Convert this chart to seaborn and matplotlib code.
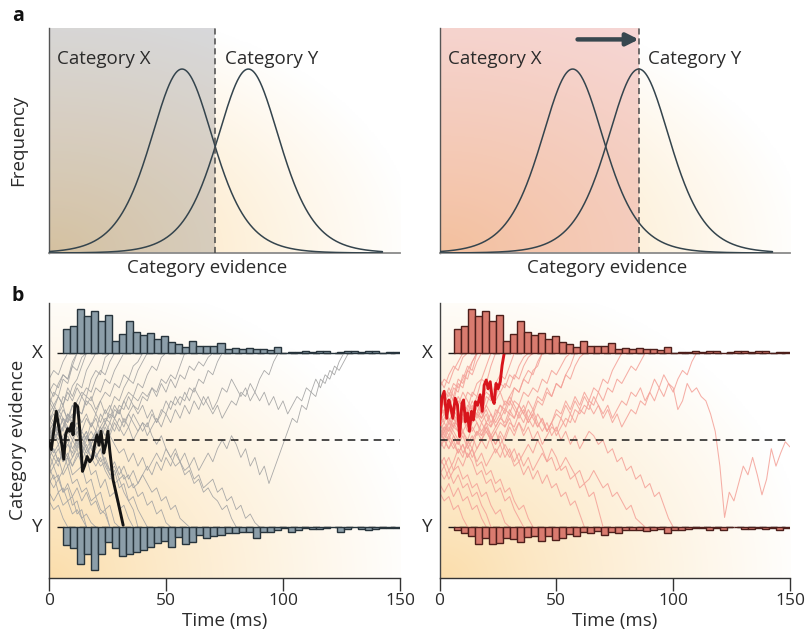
import numpy as np
import pandas as pd
import matplotlib
matplotlib.use("Agg")
import matplotlib.pyplot as plt
import matplotlib.transforms as mtransforms
import seaborn as sns

# ---------------- data ----------------
# panel a: category distributions (evidence units, bell-shaped)
CURVE_MEANS = [3.79, 5.68]
CURVE_SCALE = 0.61
CURVE_RANGE = [0.0, 9.5]
THRESHOLDS = [4.73, 5.68]          # decision criterion, left / right panel
ARROW_FROM = 3.93                  # criterion shift arrow (right panel)
CATEGORY_LABELS = ["Category X", "Category Y"]

# panel b: reaction-time histograms (3 ms bins from 6 ms)
BIN_START = 6
BIN_WIDTH = 3
HIST_X = [24, 27, 44, 37, 42, 32, 38, 12, 19, 32, 21, 18, 20, 14, 17, 11, 9, 6,
          12, 7, 7, 7, 10, 4, 5, 4, 5, 4, 4, 3, 6, 0, 1.5, 1.5, 2, 1.5, 2, 2.5,
          0.5, 1.5, 2, 2.5, 1.5, 2, 2.5, 0.5, 1, 1]
HIST_Y_LEFT = [17.7, 21, 36.7, 26.7, 42.7, 26.7, 15.3, 21, 28.7, 26.7, 25.3, 22.7,
               20, 16, 13.7, 20, 10, 16.7, 15.3, 7.7, 11, 8.7, 7.7, 6, 6, 4.7, 4.7,
               11, 5.3, 4.7, 2.7, 0.5, 5, 2.7, 0.5, 2, 2, 0.5, 0.3, 5, 2, 0.3, 2,
               2.7, 2, 0.5, 1, 0.5]
HIST_Y_RIGHT = [3.3, 6, 9.3, 17, 11, 17, 16, 11, 12, 15, 10.3, 8.7, 14.3, 9.3, 13.3,
                11, 6.7, 8.7, 5, 6, 3.7, 7.7, 5.3, 5.5, 3.3, 3.3, 3.3, 4.3, 3.3, 2,
                6, 2.7, 3.3, 2, 1.3, 1, 2.7, 1, 3.3, 0.3, 0, 2, 1.5, 1.3, 1.5, 1,
                2.7, 0.5]

TICKS_T = [0, 50, 100, 150]
DT = 2  # ms between samples of the thin traces

# highlighted single trials
BLACK_T = [0, 1, 2, 3.1, 4.3, 5.4, 6.3, 7.1, 8, 8.8, 9.7, 10.3, 11.1, 12.3, 13.1,
           14.3, 15.3, 16.3, 17.4, 18.5, 19.5, 20.5, 21.4, 22.2, 23.4, 24.2, 25.2,
           26, 27.4, 29.5, 31.7]
BLACK_Y = [-0.02, -0.11, 0.10, 0.33, 0.13, -0.04, -0.22, 0.06, 0.13, 0.10, 0.19,
           0.06, 0.42, 0.38, 0.13, -0.36, -0.29, -0.19, -0.25, -0.21, -0.06, 0.06,
           -0.06, 0.10, -0.15, -0.06, 0.10, -0.13, -0.46, -0.71, -0.98]
RED_T = [0, 1, 2, 3.1, 4, 4.8, 5.7, 6.7, 7.7, 8.6, 9.6, 10.3, 11.1, 12, 12.8, 13.7,
         14.5, 15.4, 16.3, 17.4, 18.3, 19.1, 20, 20.8, 21.7, 22.5, 23.4, 24.2, 25.1,
         26, 26.8, 27.7]
RED_Y = [0.17, 0.48, 0.56, 0.25, 0.46, 0.38, 0.25, 0.48, 0.40, 0.04, 0.42, 0.46,
         0.21, 0.31, 0.10, 0.33, 0.23, 0.44, 0.40, 0.52, 0.33, 0.63, 0.69, 0.59,
         0.67, 0.48, 0.42, 0.65, 0.59, 0.67, 0.86, 1.0]

TRACES_LEFT = [
    [0.2, 0.35, 0.3, 0.5, 0.45, 0.62, 0.7, 0.85, 1.0],
    [-0.1, 0.05, 0.2, 0.1, 0.3, 0.25, 0.45, 0.55, 0.5, 0.7, 0.8, 0.75, 0.95, 1.0],
    [0.4, 0.55, 0.5, 0.7, 0.65, 0.85, 1.0],
    [-0.3, -0.45, -0.4, -0.6, -0.55, -0.75, -0.7, -0.9, -1.0],
    [0.0, -0.15, -0.05, -0.25, -0.2, -0.4, -0.35, -0.3, -0.5, -0.45, -0.65, -0.6,
     -0.8, -0.75, -0.95, -1.0],
    [0.1, 0.2, 0.05, 0.15, 0.3, 0.2, 0.35, 0.3, 0.45, 0.4, 0.3, 0.45, 0.55, 0.5,
     0.65, 0.6, 0.75, 0.7, 0.85, 0.9, 1.0],
    [-0.5, -0.4, -0.6, -0.55, -0.7, -0.65, -0.85, -0.8, -1.0],
    [0.6, 0.5, 0.65, 0.75, 0.7, 0.9, 1.0],
    [-0.2, -0.1, -0.25, -0.15, -0.3, -0.2, -0.05, -0.15, 0.0, 0.1, 0.0, 0.15, 0.25,
     0.2, 0.35, 0.3, 0.45, 0.55, 0.5, 0.65, 0.6, 0.75, 0.85, 0.8, 0.95, 1.0],
    [0.3, 0.2, 0.35, 0.25, 0.1, 0.2, 0.05, -0.05, 0.05, -0.1, -0.2, -0.1, -0.25,
     -0.35, -0.3, -0.45, -0.4, -0.55, -0.5, -0.65, -0.6, -0.75, -0.7, -0.85, -0.8,
     -0.95, -1.0],
    [0.0, 0.1, -0.05, 0.05, 0.15, 0.1, 0.2, 0.1, 0.25, 0.15, 0.3, 0.2, 0.35, 0.25,
     0.4, 0.3, 0.45, 0.35, 0.5, 0.45, 0.55, 0.5, 0.6, 0.55, 0.7, 0.65, 0.75, 0.7,
     0.85, 1.0],
    [-0.1, -0.2, -0.1, -0.25, -0.15, -0.3, -0.2, -0.1, -0.2, -0.05, -0.15, -0.25,
     -0.2, -0.35, -0.25, -0.4, -0.3, -0.45, -0.35, -0.5, -0.4, -0.3, -0.4, -0.25,
     -0.35, -0.2, -0.3, -0.15, -0.25, -0.35, -0.3, -0.45, -0.4, -0.55, -0.5, -0.45,
     -0.6, -0.55, -0.7, -0.65, -0.8, -0.75, -0.9, -0.85, -0.95, -1.0],
    [0.1, 0.2, 0.1, 0.25, 0.15, 0.05, 0.15, 0.0, 0.1, -0.05, 0.05, 0.15, 0.05, 0.2,
     0.1, 0.25, 0.15, 0.3, 0.2, 0.1, 0.2, 0.05, 0.15, 0.25, 0.15, 0.3, 0.2, 0.35,
     0.25, 0.4, 0.3, 0.45, 0.35, 0.5, 0.4, 0.3, 0.4, 0.25, 0.35, 0.45, 0.4, 0.55,
     0.5, 0.65, 0.55, 0.45, 0.55, 0.4, 0.5, 0.35, 0.45, 0.3, 0.4, 0.5, 0.45, 0.6,
     0.55, 0.7, 0.6, 0.75, 0.7, 0.85, 0.8, 0.9, 1.0],
    [-0.2, -0.1, -0.25, -0.15, -0.05, -0.15, 0.0, -0.1, 0.05, -0.05, 0.1, 0.0, 0.15,
     0.05, 0.2, 0.1, 0.25, 0.15, 0.3, 0.2, 0.1, 0.2, 0.05, -0.05, 0.05, -0.1, -0.2,
     -0.1, -0.25, -0.15, -0.3, -0.2, -0.35, -0.25, -0.15, -0.25, -0.1, 0.0, -0.1,
     0.05, -0.05, -0.2, -0.1, -0.3, -0.2, -0.4, -0.3, -0.5, -0.35, -0.2, -0.05, 0.1,
     0.25, 0.2, 0.4, 0.35, 0.55, 0.5, 0.7, 0.65, 0.8, 0.75, 0.9, 1.0],
    [0.2, 0.3, 0.2, 0.35, 0.25, 0.4, 0.3, 0.2, 0.3, 0.15, 0.25, 0.1, 0.2, 0.3, 0.25,
     0.4, 0.35, 0.5, 0.4, 0.3, 0.4, 0.25, 0.35, 0.2, 0.3, 0.45, 0.35, 0.5, 0.4, 0.55,
     0.45, 0.6, 0.5, 0.4, 0.5, 0.35, 0.45, 0.6, 0.55, 0.7, 0.6, 0.5, 0.6, 0.45, 0.55,
     0.7, 0.8, 0.75, 0.9, 1.0],
    [0.5, 0.4, 0.3, 0.4, 0.2, 0.3, 0.1, 0.0, 0.1, -0.1, -0.2, -0.1, -0.3, -0.4,
     -0.35, -0.55, -0.5, -0.7, -0.8, -1.0],
    [-0.6, -0.7, -0.6, -0.75, -0.7, -0.85, -0.8, -0.9, -0.85, -0.95, -1.0],
    [0.3, 0.4, 0.5, 0.4, 0.55, 0.45, 0.6, 0.5, 0.4, 0.5, 0.35, 0.45, 0.3, 0.4, 0.25,
     0.35, 0.2, 0.3, 0.4, 0.35, 0.5, 0.45, 0.6, 0.5, 0.65, 0.55, 0.7, 0.6, 0.75, 0.7,
     0.85, 0.8, 0.9, 0.85, 0.95, 1.0],
    [-0.4, -0.3, -0.45, -0.35, -0.2, -0.3, -0.15, -0.25, -0.1, -0.2, -0.3, -0.2,
     -0.35, -0.45, -0.4, -0.3, -0.45, -0.4, -0.55, -0.5, -0.4, -0.5, -0.6, -0.55,
     -0.7, -0.65, -0.8, -0.75, -0.9, -0.95, -1.0],
    [0.7, 0.8, 0.75, 0.9, 1.0],
    [-0.7, -0.8, -0.75, -0.9, -1.0],
    [0.0, 0.15, 0.1, 0.25, 0.2, 0.4, 0.35, 0.5, 0.6, 0.55, 0.7, 0.8, 0.75, 0.9, 1.0],
    [-0.35, -0.2, -0.3, -0.1, -0.2, 0.0, -0.1, 0.1, 0.0, 0.2, 0.1, 0.3, 0.2, 0.35,
     0.5, 0.45, 0.6, 0.7, 0.65, 0.8, 0.9, 1.0],
    [0.15, 0.0, 0.1, -0.1, 0.0, -0.2, -0.1, -0.3, -0.2, -0.4, -0.35, -0.55, -0.45,
     -0.65, -0.6, -0.8, -0.75, -0.9, -1.0],
    [-0.1, 0.0, 0.1, 0.0, 0.15, 0.05, -0.05, 0.05, -0.1, 0.0, 0.1, 0.05, 0.2, 0.1,
     0.25, 0.15, 0.05, 0.15, 0.0, 0.1, 0.2, 0.15, 0.3, 0.2, 0.35, 0.3, 0.45, 0.4,
     0.5, 0.45, 0.6, 0.55, 0.7, 0.65, 0.8, 0.75, 0.9, 1.0],
    [0.05, 0.15, 0.05, -0.05, 0.05, -0.1, 0.0, -0.15, -0.05, -0.2, -0.1, 0.0, -0.1,
     0.05, -0.05, -0.15, -0.1, -0.25, -0.15, -0.3, -0.2, -0.35, -0.25, -0.15, -0.25,
     -0.1, -0.2, -0.3, -0.25, -0.4, -0.35, -0.5, -0.45, -0.6, -0.55, -0.65, -0.7,
     -0.8, -0.75, -0.9, -1.0],
    [0.45, 0.35, 0.5, 0.4, 0.6, 0.5, 0.65, 0.6, 0.8, 0.9, 1.0],
    [-0.15, -0.3, -0.2, -0.4, -0.3, -0.5, -0.45, -0.6, -0.55, -0.7, -0.65, -0.8,
     -0.85, -1.0],
    [0.25, 0.15, 0.3, 0.2, 0.1, 0.0, 0.1, -0.05, -0.15, -0.05, -0.2, -0.3, -0.25,
     -0.4, -0.5, -0.45, -0.6, -0.7, -0.65, -0.8, -0.9, -1.0],
    [-0.05, 0.1, 0.0, 0.15, 0.25, 0.2, 0.35, 0.3, 0.5, 0.45, 0.6, 0.55, 0.7, 0.65,
     0.8, 0.9, 1.0],
    [0.55, 0.65, 0.6, 0.75, 0.7, 0.85, 0.8, 0.95, 1.0],
    [-0.45, -0.55, -0.45, -0.6, -0.5, -0.65, -0.55, -0.7, -0.6, -0.75, -0.7, -0.85,
     -0.8, -1.0],
]

TRACES_RIGHT = [
    [0.3, 0.45, 0.4, 0.6, 0.55, 0.75, 0.7, 0.9, 1.0],
    [0.0, 0.15, 0.1, 0.3, 0.2, 0.4, 0.35, 0.55, 0.5, 0.7, 0.65, 0.85, 1.0],
    [0.6, 0.7, 0.65, 0.8, 0.9, 1.0],
    [-0.3, -0.2, -0.35, -0.25, -0.1, -0.2, 0.0, -0.1, 0.1, 0.05, 0.2, 0.15, 0.35,
     0.3, 0.45, 0.4, 0.6, 0.55, 0.7, 0.8, 0.75, 0.9, 1.0],
    [0.2, 0.1, 0.25, 0.15, 0.3, 0.2, 0.35, 0.25, 0.4, 0.3, 0.5, 0.45, 0.6, 0.55,
     0.65, 0.6, 0.75, 0.7, 0.85, 0.95, 1.0],
    [-0.5, -0.6, -0.5, -0.65, -0.55, -0.7, -0.65, -0.8, -0.75, -0.9, -1.0],
    [0.1, 0.0, -0.1, 0.0, -0.15, -0.05, -0.2, -0.1, -0.3, -0.25, -0.4, -0.35, -0.5,
     -0.45, -0.6, -0.55, -0.7, -0.8, -0.75, -0.9, -1.0],
    [0.4, 0.3, 0.45, 0.35, 0.5, 0.4, 0.3, 0.4, 0.25, 0.35, 0.2, 0.3, 0.15, 0.25,
     0.35, 0.3, 0.45, 0.4, 0.55, 0.5, 0.6, 0.55, 0.7, 0.65, 0.8, 0.75, 0.85, 0.95, 1.0],
    [0.05, 0.15, 0.05, 0.2, 0.1, 0.25, 0.15, 0.3, 0.2, 0.1, 0.2, 0.05, 0.15, 0.25,
     0.2, 0.35, 0.25, 0.4, 0.3, 0.2, 0.3, 0.15, 0.25, 0.1, 0.2, 0.3, 0.25, 0.4, 0.3,
     0.45, 0.35, 0.5, 0.4, 0.3, 0.4, 0.25, 0.35, 0.2, 0.3, 0.15, 0.25, 0.35, 0.3,
     0.45, 0.4, 0.55, 0.45, 0.6, 0.5, 0.65, 0.6, 0.35, 0.45, 0.65, 0.55, 0.6, 0.5,
     0.45, 0.3, 0.1, -0.3, -0.89, -0.6, -0.7, -0.5, -0.3, -0.4, -0.2, -0.4, -0.63,
     -0.45, -0.1, -0.3, -0.15, -0.02, -0.08],
    [0.2, 0.3, 0.2, 0.35, 0.25, 0.4, 0.3, 0.45, 0.35, 0.25, 0.35, 0.2, 0.3, 0.4,
     0.35, 0.5, 0.4, 0.3, 0.4, 0.25, 0.35, 0.2, 0.1, 0.2, 0.05, 0.15, 0.0, 0.1, -0.05,
     0.05, -0.1, 0.0, 0.1, 0.05, -0.05, 0.0, -0.15, -0.1, -0.25, -0.2, -0.35, -0.3,
     -0.45, -0.4, -0.55, -0.5, -0.65, -0.6, -0.75, -0.9, -1.0],
    [-0.1, 0.0, -0.1, 0.05, -0.05, 0.1, 0.0, 0.15, 0.05, 0.2, 0.1, 0.0, 0.1, -0.05,
     0.05, 0.2, 0.15, 0.3, 0.2, 0.35, 0.25, 0.15, 0.25, 0.1, 0.2, 0.35, 0.3, 0.45,
     0.35, 0.5, 0.4, 0.55, 0.45, 0.6, 0.55, 0.7, 0.65, 0.8, 0.9, 1.0],
    [0.0, -0.1, 0.05, -0.05, -0.15, -0.05, -0.2, -0.1, -0.25, -0.15, -0.3, -0.2,
     -0.1, -0.2, -0.05, -0.15, -0.3, -0.25, -0.4, -0.3, -0.45, -0.35, -0.5, -0.4,
     -0.55, -0.5, -0.65, -0.6, -0.75, -0.7, -0.85, -1.0],
    [0.15, 0.05, 0.2, 0.1, 0.0, 0.1, -0.05, 0.05, -0.1, 0.0, 0.1, 0.0, -0.15, -0.05,
     -0.2, -0.1, -0.25, -0.15, -0.3, -0.2, -0.35, -0.25, -0.15, -0.25, -0.1, -0.2,
     -0.35, -0.3, -0.45, -0.4, -0.55, -0.5, -0.65, -0.6, -0.8, -1.0],
    [0.3, 0.2, 0.35, 0.25, 0.15, 0.25, 0.1, 0.2, 0.3, 0.25, 0.4, 0.3, 0.2, 0.3, 0.15,
     0.25, 0.1, 0.2, 0.05, 0.15, 0.0, 0.1, -0.05, 0.05, 0.15, 0.1, 0.25, 0.15, 0.3,
     0.2, 0.35, 0.3, 0.45, 0.4, 0.55, 0.45, 0.6, 0.55, 0.7, 0.65, 0.75, 0.85, 0.8,
     0.9, 1.0],
    [0.5, 0.4, 0.55, 0.45, 0.65, 0.6, 0.8, 0.75, 0.9, 1.0],
    [-0.2, -0.3, -0.2, -0.35, -0.3, -0.45, -0.4, -0.55, -0.5, -0.65, -0.6, -0.75,
     -0.85, -0.8, -0.95, -1.0],
    [0.0, 0.1, 0.2, 0.15, 0.3, 0.25, 0.4, 0.35, 0.5, 0.45, 0.6, 0.55, 0.45, 0.55,
     0.4, 0.5, 0.6, 0.55, 0.7, 0.65, 0.8, 0.85, 1.0],
    [-0.4, -0.3, -0.45, -0.35, -0.2, -0.3, -0.15, -0.25, -0.4, -0.35, -0.5, -0.45,
     -0.6, -0.55, -0.7, -0.65, -0.8, -0.9, -1.0],
    [0.7, 0.6, 0.75, 0.85, 0.8, 0.95, 1.0],
    [-0.6, -0.7, -0.65, -0.8, -0.75, -0.9, -1.0],
    [0.1, 0.2, 0.1, 0.25, 0.15, 0.3, 0.2, 0.1, 0.2, 0.05, 0.15, 0.0, 0.1, 0.2, 0.15,
     0.3, 0.25, 0.4, 0.3, 0.45, 0.35, 0.5, 0.45, 0.6, 0.5, 0.65, 0.6, 0.75, 0.85, 1.0],
    [0.35, 0.45, 0.35, 0.5, 0.4, 0.55, 0.45, 0.35, 0.45, 0.3, 0.4, 0.55, 0.5, 0.65,
     0.6, 0.75, 0.7, 0.85, 0.95, 1.0],
    [0.25, 0.35, 0.25, 0.15, 0.25, 0.1, 0.2, 0.35, 0.3, 0.2, 0.3, 0.15, 0.25, 0.4,
     0.3, 0.45, 0.35, 0.25, 0.35, 0.2, 0.3, 0.45, 0.4, 0.55, 0.5, 0.65, 0.6, 0.75,
     0.7, 0.85, 0.95, 1.0],
    [0.1, 0.0, 0.15, 0.05, -0.05, 0.05, -0.1, 0.0, 0.1, 0.0, 0.15, 0.05, -0.05, 0.05,
     -0.1, -0.2, -0.1, -0.25, -0.15, -0.05, -0.15, 0.0, -0.1, -0.25, -0.2, -0.35,
     -0.3, -0.2, -0.3, -0.4, -0.35, -0.5, -0.45, -0.35, -0.45, -0.55, -0.5, -0.65,
     -0.6, -0.7, -0.8, -0.75, -0.9, -0.95, -1.0],
    [0.45, 0.55, 0.5, 0.65, 0.6, 0.7, 0.85, 0.8, 1.0],
    [-0.1, 0.05, 0.0, 0.15, 0.1, 0.25, 0.2, 0.35, 0.3, 0.45, 0.55, 0.5, 0.65, 0.75,
     0.7, 0.85, 1.0],
    [0.15, 0.25, 0.35, 0.3, 0.45, 0.4, 0.55, 0.5, 0.65, 0.7, 0.85, 1.0],
    [-0.35, -0.45, -0.35, -0.5, -0.4, -0.55, -0.5, -0.65, -0.6, -0.75, -0.85, -1.0],
    [0.0, 0.1, 0.0, -0.1, 0.0, -0.15, -0.05, -0.2, -0.1, 0.0, -0.1, 0.05, -0.05, 0.1,
     0.0, 0.15, 0.05, 0.2, 0.1, 0.25, 0.15, 0.3, 0.2, 0.1, 0.2, 0.05, 0.15, 0.25,
     0.2, 0.35, 0.3, 0.4, 0.35, 0.5, 0.4, 0.3, 0.4, 0.25, 0.35, 0.45, 0.4, 0.55, 0.5,
     0.6, 0.45, 0.55, 0.7, 0.6, 0.75, 0.65, 0.55, 0.7, 0.8, 0.75, 0.9, 1.0],
    [0.55, 0.45, 0.6, 0.5, 0.7, 0.65, 0.8, 0.9, 1.0],
]

# ---------------- style ----------------
sns.set_theme(style="white")
plt.rcParams["font.family"] = ["Open Sans", "DejaVu Sans"]
TXT = "#2b2b2b"
CURVE_C = "#34444d"
FS = 13.5
W, H = 805, 638

fig = plt.figure(figsize=(W / 100, H / 100), dpi=100)


def fax(l, t, r, b):
    return fig.add_axes([l / W, 1 - b / H, (r - l) / W, (b - t) / H])


def base_gradient(ax):
    n = 240
    xx, yy = np.meshgrid(np.linspace(0, 1, n), np.linspace(0, 1, n))
    r = np.sqrt((xx * 1.0) ** 2 + (yy * 0.95) ** 2)
    w = np.clip(r / 1.05, 0, 1) ** 0.85
    orange = np.array([251, 221, 170]) / 255.0
    img = orange[None, None, :] * (1 - w[..., None]) + w[..., None]
    ax.imshow(img, extent=[0, 1, 0, 1], transform=ax.transAxes, origin="lower",
              aspect="auto", zorder=0, interpolation="bilinear")


# ---------------- panel a ----------------
ax_a = [fax(49, 28, 400, 253), fax(440, 28, 790, 253)]
overlay = [((0.50, 0.50, 0.53), 0.30), ((0.90, 0.55, 0.52), 0.36)]
xs = np.linspace(CURVE_RANGE[0], CURVE_RANGE[1], 500)
for i, ax in enumerate(ax_a):
    base_gradient(ax)
    ax.axvspan(0, THRESHOLDS[i], color=overlay[i][0], alpha=overlay[i][1], lw=0, zorder=1)
    for mu in CURVE_MEANS:
        z = (xs - mu) / CURVE_SCALE
        dens = 4 * np.exp(-z) / (1 + np.exp(-z)) ** 2
        sns.lineplot(x=xs, y=dens, ax=ax, color=CURVE_C, lw=1.1, zorder=3)
    ax.axvline(THRESHOLDS[i], color="#4a4a4a", lw=1.1, ls=(0, (4, 2.5)), zorder=4)
    ax.set_xlim(0, 10)
    ax.set_ylim(0, 1.223)
    ax.set_xticks([])
    ax.set_yticks([])
    for s in ["top", "right"]:
        ax.spines[s].set_visible(False)
    ax.spines["left"].set_color("#555555")
    ax.spines["left"].set_linewidth(1.0)
    ax.spines["bottom"].set_color("#8a8a8a")
    ax.spines["bottom"].set_linewidth(1.3)
    ax.text(0.23, 1.055, CATEGORY_LABELS[0], ha="left", va="center", fontsize=FS, color=TXT)
    ax.text(5.01 if i == 0 else 5.93, 1.055, CATEGORY_LABELS[1], ha="left", va="center",
            fontsize=FS, color=TXT)
ax_a[1].annotate("", xy=(THRESHOLDS[1], 1.161), xytext=(ARROW_FROM, 1.161),
                 arrowprops=dict(arrowstyle="-|>", color="#37474f", lw=3.2,
                                 mutation_scale=18, shrinkA=0, shrinkB=0), zorder=6)

fig.text(207 / W, 1 - 268 / H, "Category evidence", ha="center", va="center", fontsize=FS, color=TXT)
fig.text(607 / W, 1 - 268 / H, "Category evidence", ha="center", va="center", fontsize=FS, color=TXT)
fig.text(18 / W, 1 - 140 / H, "Frequency", rotation=90, ha="center", va="center", fontsize=FS, color=TXT)
fig.text(18 / W, 1 - 16 / H, "a", ha="center", va="center", fontsize=14, weight="bold", color="#111111")
fig.text(18 / W, 1 - 296 / H, "b", ha="center", va="center", fontsize=14, weight="bold", color="#111111")
fig.text(18 / W, 1 - 440 / H, "Category evidence", rotation=90, ha="center", va="center",
         fontsize=FS, color=TXT)

# ---------------- panel b ----------------
HIST_SCALE = 1 / 87.0
ax_b = [fax(49, 303, 400, 578), fax(439.5, 303, 790, 578)]
specs = [
    dict(traces=TRACES_LEFT, tc="#a5a5a5", tlw=0.6, talpha=0.95, hy=HIST_Y_LEFT,
         face="#8c9ea9", edge="#27343c", bt=BLACK_T, by=BLACK_Y, bc="#141414"),
    dict(traces=TRACES_RIGHT, tc="#f4a198", tlw=0.75, talpha=0.85, hy=HIST_Y_RIGHT,
         face="#d97b6f", edge="#4d1f1b", bt=RED_T, by=RED_Y, bc="#d8141c"),
]
edges = BIN_START + BIN_WIDTH * np.arange(len(HIST_X))
for ax, sp in zip(ax_b, specs):
    base_gradient(ax)
    rows = []
    for k, tr in enumerate(sp["traces"]):
        for j, v in enumerate(tr):
            rows.append((k, j * DT, v))
    df = pd.DataFrame(rows, columns=["trial", "t", "y"])
    sns.lineplot(data=df, x="t", y="y", units="trial", estimator=None, ax=ax,
                 color=sp["tc"], lw=sp["tlw"], alpha=sp["talpha"], zorder=2, sort=False)
    sns.lineplot(x=sp["bt"], y=sp["by"], ax=ax, color=sp["bc"], lw=2.1, zorder=4,
                 sort=False, estimator=None)
    # boundaries
    ax.plot([0, 150], [0, 0], color="#1a1a1a", lw=1.1, ls=(0, (5, 3.5)), zorder=3)
    for lvl in (1, -1):
        ax.plot([3.5, 148], [lvl, lvl], color="#1a1a1a", lw=1.0, ls=(0, (5, 3)), zorder=3)
    hx = np.array(HIST_X) * HIST_SCALE
    hy = np.array(sp["hy"]) * HIST_SCALE
    ax.bar(edges, hx, width=BIN_WIDTH, bottom=1, align="edge", color=sp["face"],
           edgecolor=sp["edge"], lw=1.0, zorder=5)
    ax.bar(edges, -hy, width=BIN_WIDTH, bottom=-1, align="edge", color=sp["face"],
           edgecolor=sp["edge"], lw=1.0, zorder=5)
    ax.set_xlim(0, 150)
    ax.set_ylim(-1.586, 1.575)
    ax.set_yticks([])
    ax.set_xticks(TICKS_T)
    ax.set_xticklabels([str(t) for t in TICKS_T], fontsize=12.5, color=TXT)
    ax.tick_params(axis="x", direction="out", length=9, width=1.0, color="#333333", pad=2,
                   bottom=True)
    ax.set_xlabel("Time (ms)", fontsize=FS, color=TXT, labelpad=2)
    ax.set_ylabel("")
    for s in ["top", "right"]:
        ax.spines[s].set_visible(False)
    ax.spines["left"].set_color("#444444")
    ax.spines["bottom"].set_color("#333333")
    ax.spines["left"].set_linewidth(1.0)
    ax.spines["bottom"].set_linewidth(1.0)
    tr_ = mtransforms.blended_transform_factory(ax.transAxes, ax.transData)
    ax.text(-0.034, 1, "X", transform=tr_, ha="center", va="center", fontsize=FS, color=TXT)
    ax.text(-0.034, -1, "Y", transform=tr_, ha="center", va="center", fontsize=FS, color=TXT)

fig.savefig("out.png", dpi=100)
